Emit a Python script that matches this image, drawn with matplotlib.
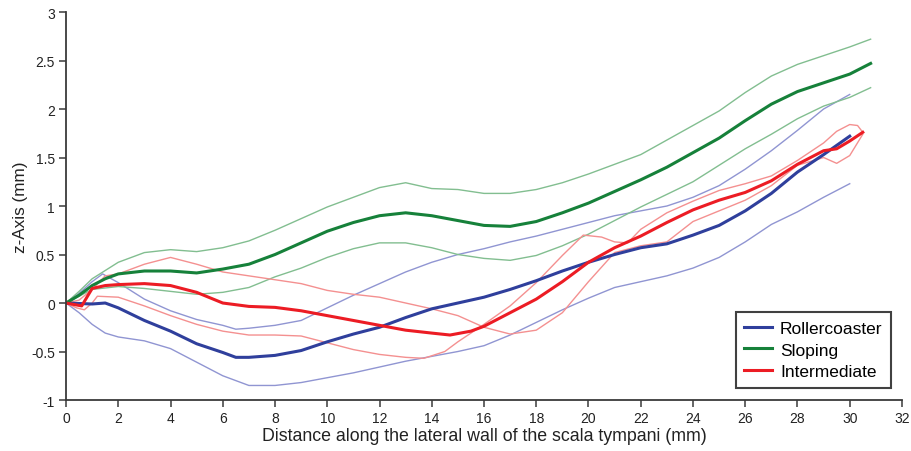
import matplotlib
matplotlib.use("Agg")
import matplotlib.pyplot as plt
from matplotlib.ticker import FuncFormatter

plt.rcParams['font.family'] = ['Liberation Sans', 'DejaVu Sans']

# ---------------- data ----------------
blue_mean_x = [0, 1, 1.5, 2, 3, 4, 5, 6, 6.5, 7, 8, 9, 10, 11, 12, 13, 14, 15, 16, 17, 18,
               19, 20, 21, 22, 23, 24, 25, 26, 27, 28, 29, 30]
blue_mean_y = [0, -0.01, 0.0, -0.05, -0.18, -0.29, -0.42, -0.51, -0.56, -0.56, -0.54, -0.49,
               -0.40, -0.32, -0.25, -0.15, -0.06, 0.0, 0.06, 0.14, 0.23, 0.33, 0.42, 0.5,
               0.57, 0.61, 0.7, 0.8, 0.95, 1.13, 1.35, 1.53, 1.72]

blue_hi_x = [0, 0.5, 1, 1.4, 2, 3, 4, 5, 6, 6.5, 7, 8, 9, 10, 11, 12, 13, 14, 15, 16, 17,
             18, 19, 20, 21, 22, 23, 24, 25, 26, 27, 28, 29, 30]
blue_hi_y = [0, 0.1, 0.22, 0.3, 0.21, 0.04, -0.08, -0.17, -0.23, -0.27, -0.26, -0.23, -0.18,
             -0.05, 0.08, 0.2, 0.32, 0.42, 0.5, 0.56, 0.63, 0.69, 0.76, 0.83, 0.9, 0.95,
             1.0, 1.09, 1.21, 1.38, 1.57, 1.78, 2.0, 2.15]

blue_lo_x = [0, 0.5, 1, 1.5, 2, 3, 4, 5, 6, 7, 8, 9, 10, 11, 12, 13, 14, 15, 16, 17, 18,
             19, 20, 21, 22, 23, 24, 25, 26, 27, 28, 29, 30]
blue_lo_y = [0, -0.1, -0.22, -0.31, -0.35, -0.39, -0.47, -0.61, -0.75, -0.85, -0.85, -0.82,
             -0.77, -0.72, -0.66, -0.6, -0.55, -0.5, -0.44, -0.33, -0.2, -0.07, 0.05,
             0.16, 0.22, 0.28, 0.36, 0.47, 0.63, 0.81, 0.94, 1.09, 1.23]

green_mean_x = [0, 0.5, 1, 1.5, 2, 3, 4, 5, 6, 7, 8, 9, 10, 11, 12, 13, 14, 15, 16, 17, 18,
                19, 20, 21, 22, 23, 24, 25, 26, 27, 28, 29, 30, 30.8]
green_mean_y = [0, 0.08, 0.18, 0.25, 0.3, 0.33, 0.33, 0.31, 0.35, 0.4, 0.5, 0.62, 0.74, 0.83,
                0.9, 0.93, 0.9, 0.85, 0.8, 0.79, 0.84, 0.93, 1.03, 1.15, 1.27, 1.4, 1.55,
                1.7, 1.88, 2.05, 2.18, 2.27, 2.36, 2.47]

green_hi_x = [0, 0.5, 1, 2, 3, 4, 5, 6, 7, 8, 9, 10, 11, 12, 13, 14, 15, 16, 17, 18, 19, 20,
              21, 22, 23, 24, 25, 26, 27, 28, 29, 30, 30.8]
green_hi_y = [0, 0.12, 0.25, 0.42, 0.52, 0.55, 0.53, 0.57, 0.64, 0.75, 0.87, 0.99, 1.09, 1.19,
              1.24, 1.18, 1.17, 1.13, 1.13, 1.17, 1.24, 1.33, 1.43, 1.53, 1.68, 1.83, 1.98,
              2.17, 2.34, 2.46, 2.55, 2.64, 2.72]

green_lo_x = [0, 0.5, 1, 2, 3, 4, 5, 6, 7, 8, 9, 10, 11, 12, 13, 14, 15, 16, 17, 18, 19, 20,
              21, 22, 23, 24, 25, 26, 27, 28, 29, 30, 30.8]
green_lo_y = [0, 0.07, 0.14, 0.17, 0.15, 0.12, 0.09, 0.11, 0.16, 0.27, 0.36, 0.47, 0.56, 0.62,
              0.62, 0.57, 0.5, 0.46, 0.44, 0.49, 0.59, 0.71, 0.85, 0.99, 1.12, 1.25, 1.42,
              1.59, 1.74, 1.9, 2.03, 2.12, 2.22]

red_mean_x = [0, 0.6, 1, 1.5, 2, 3, 4, 5, 6, 7, 8, 9, 10, 11, 12, 13, 14, 14.7, 15.5, 16, 17,
              18, 19, 20, 21, 22, 23, 24, 25, 26, 27, 28, 29, 29.5, 30, 30.5]
red_mean_y = [0, -0.03, 0.15, 0.18, 0.19, 0.2, 0.18, 0.11, 0.0, -0.035, -0.045, -0.08, -0.13,
              -0.18, -0.23, -0.28, -0.31, -0.33, -0.29, -0.24, -0.1, 0.04, 0.22, 0.42, 0.57,
              0.69, 0.83, 0.96, 1.06, 1.14, 1.26, 1.43, 1.57, 1.59, 1.67, 1.76]

red_a_x = [0, 0.5, 1, 1.5, 2, 3, 4, 5, 6, 7, 8, 9, 10, 11, 12, 13, 14, 15, 16, 17, 18, 19,
           20, 21, 22, 23, 24, 25, 26, 27, 28, 29, 29.5, 30, 30.5]
red_a_y = [0, 0.03, 0.14, 0.28, 0.3, 0.4, 0.47, 0.4, 0.32, 0.28, 0.24, 0.2, 0.13, 0.09, 0.06,
           0.0, -0.06, -0.13, -0.25, -0.32, -0.28, -0.1, 0.22, 0.52, 0.59, 0.63, 0.84, 0.95,
           1.06, 1.21, 1.42, 1.5, 1.44, 1.52, 1.74]

red_b_x = [0, 0.4, 0.7, 1, 1.2, 2, 3, 4, 5, 6, 7, 8, 9, 10, 11, 12, 13, 13.7, 14.5, 15, 16,
           17, 18, 19, 19.8, 20.5, 21, 21.5, 22, 23, 24, 25, 26, 27, 28, 29, 29.5, 30, 30.3,
           30.5]
red_b_y = [0, -0.05, -0.07, 0.0, 0.07, 0.06, -0.03, -0.13, -0.22, -0.29, -0.33, -0.33, -0.34,
           -0.41, -0.48, -0.53, -0.56, -0.57, -0.5, -0.4, -0.22, -0.03, 0.21, 0.49, 0.70,
           0.68, 0.63, 0.62, 0.76, 0.93, 1.05, 1.16, 1.23, 1.31, 1.47, 1.65, 1.77, 1.84,
           1.83, 1.76]

series_names = ["Rollercoaster", "Sloping", "Intermediate"]
x_ticks = list(range(0, 33, 2))
y_ticks = [-1, -0.5, 0, 0.5, 1, 1.5, 2, 2.5, 3]

# ---------------- drawing ----------------
BLUE, BLUE_T = "#2f3f9c", "#9095d2"
GREEN, GREEN_T = "#16813a", "#82be90"
RED, RED_T = "#ec1c24", "#f49090"

fig = plt.figure(figsize=(9.12, 4.52), dpi=100)
ax = fig.add_axes([0.0724, 0.1128, 0.9166, 0.8584])

thin = 1.0
thick = 2.2
ax.plot(blue_hi_x, blue_hi_y, color=BLUE_T, lw=thin)
ax.plot(blue_lo_x, blue_lo_y, color=BLUE_T, lw=thin)
ax.plot(green_hi_x, green_hi_y, color=GREEN_T, lw=thin)
ax.plot(green_lo_x, green_lo_y, color=GREEN_T, lw=thin)
ax.plot(red_a_x, red_a_y, color=RED_T, lw=thin)
ax.plot(red_b_x, red_b_y, color=RED_T, lw=thin)

lb, = ax.plot(blue_mean_x, blue_mean_y, color=BLUE, lw=thick, label=series_names[0])
lg, = ax.plot(green_mean_x, green_mean_y, color=GREEN, lw=thick, label=series_names[1])
lr, = ax.plot(red_mean_x, red_mean_y, color=RED, lw=thick, label=series_names[2])

ax.set_xlim(0, 32)
ax.set_ylim(-1, 3)
ax.set_xticks(x_ticks)
ax.set_yticks(y_ticks)
ax.yaxis.set_major_formatter(FuncFormatter(lambda v, p: ("%g" % v)))

for s in ["top", "right"]:
    ax.spines[s].set_visible(False)
for s in ["left", "bottom"]:
    ax.spines[s].set_color("#3a3a3a")
    ax.spines[s].set_linewidth(1.3)
ax.tick_params(direction="out", length=5, width=1.1, color="#3a3a3a",
               labelsize=10, labelcolor="#222222", pad=3)

ax.set_xlabel("Distance along the lateral wall of the scala tympani (mm)", fontsize=12.8,
              color="#222222", labelpad=1)
ax.set_ylabel("z-Axis (mm)", fontsize=12.3, color="#222222", labelpad=2)

leg = ax.legend(handles=[lb, lg, lr], loc="lower right", bbox_to_anchor=(0.987, 0.031),
                fontsize=12.5, frameon=True, fancybox=False, edgecolor="#111111",
                handlelength=1.6, handletextpad=0.45, borderpad=0.5, labelspacing=0.38,
                borderaxespad=0)
leg.get_frame().set_linewidth(1.5)

fig.savefig("out.png", dpi=100)
